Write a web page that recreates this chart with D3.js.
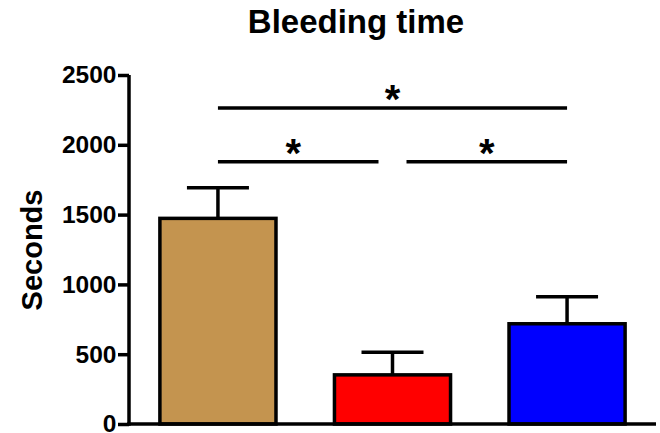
<!DOCTYPE html>
<html>
<head>
<meta charset="utf-8">
<script src="https://cdn.jsdelivr.net/npm/d3@7"></script>
<style>
  body { margin: 0; background: #fff; }
  svg { display: block; font-family: "Liberation Sans", Arial, sans-serif; font-weight: bold; }
</style>
</head>
<body>
<div id="chart"></div>
<script>
var groups = ["A", "B", "C"]
var means = [1473, 352, 718]
var errors = [219, 162, 194]
var colors = ["#C4944F", "#FF0000", "#0000FF"]
var yTicks = [0, 500, 1000, 1500, 2000, 2500]

// significance bars: from group, to group, height (seconds), label
var sigFrom = [0, 0, 1]
var sigTo = [2, 1, 2]
var sigLevel = [2263, 1879, 1879]
var sigLabel = ["*", "*", "*"]

var width = 660,
    height = 433

var svg = d3.select("#chart")
    .append("svg")
    .attr("width", width)
    .attr("height", height)

var x = d3.scaleBand()
    .domain(groups)
    .range([129, 656])
    .paddingInner(0.335)
    .paddingOuter(0.177)

var y = d3.scaleLinear()
    .domain([0, 2500])
    .range([424, 75])

// title
svg.append("text")
    .attr("x", 356)
    .attr("y", 33)
    .attr("text-anchor", "middle")
    .style("font-size", "33px")
    .text("Bleeding time")

// y label
svg.append("text")
    .attr("transform", "translate(42,250) rotate(-90)")
    .attr("text-anchor", "middle")
    .style("font-size", "29px")
    .text("Seconds")

// error bars (drawn first so bar covers the stem)
var err = svg.append("g")
means.forEach(function(m, i) {
    var cx = x(groups[i]) + x.bandwidth() / 2
    err.append("line")
        .attr("x1", cx).attr("x2", cx)
        .attr("y1", y(m)).attr("y2", y(m + errors[i]))
        .attr("stroke", "#000").attr("stroke-width", 3.5)
    err.append("line")
        .attr("x1", cx - 31).attr("x2", cx + 31)
        .attr("y1", y(m + errors[i])).attr("y2", y(m + errors[i]))
        .attr("stroke", "#000").attr("stroke-width", 3.5)
})

// bars
svg.selectAll("rect.bar")
    .data(means)
    .enter()
    .append("rect")
    .attr("class", "bar")
    .attr("x", function(d, i) { return x(groups[i]) })
    .attr("y", function(d) { return y(d) })
    .attr("width", x.bandwidth())
    .attr("height", function(d) { return y(0) - y(d) })
    .attr("fill", function(d, i) { return colors[i] })
    .attr("stroke", "#000")
    .attr("stroke-width", 3.5)

// axes
var yAxis = svg.append("g")
    .attr("transform", "translate(129,0)")
    .call(d3.axisLeft(y).tickValues(yTicks).tickSize(11).tickPadding(1.5).tickFormat(d3.format("d")))
yAxis.select(".domain").attr("d", "M0," + (y(2500)) + "V" + (y(0) + 1.75)).attr("stroke-width", 3.5)
yAxis.selectAll(".tick line").attr("stroke-width", 3.5)
yAxis.selectAll(".tick text")
    .style("font-size", "24.5px")
    .style("font-family", "'Liberation Sans', Arial, sans-serif")
    .style("font-weight", "bold")
    .attr("fill", "#000")

svg.append("line")
    .attr("x1", 127.25).attr("x2", 656)
    .attr("y1", y(0)).attr("y2", y(0))
    .attr("stroke", "#000").attr("stroke-width", 3.5)

// significance annotations
var center = function(i) { return x(groups[i]) + x.bandwidth() / 2 }
sigLevel.forEach(function(lv, i) {
    var x1 = center(sigFrom[i]),
        x2 = center(sigTo[i])
    // short gap around the shared middle bar
    if (sigTo[i] - sigFrom[i] == 1) {
        if (sigTo[i] == 1) x2 -= 14
        if (sigFrom[i] == 1) x1 += 14
    }
    var sx = (x1 + x2) / 2
    if (sigTo[i] == 1) sx -= 5
    svg.append("line")
        .attr("x1", x1).attr("x2", x2)
        .attr("y1", y(lv)).attr("y2", y(lv))
        .attr("stroke", "#000").attr("stroke-width", 3.5)
    svg.append("text")
        .attr("x", sx)
        .attr("y", y(lv) + 5)
        .attr("text-anchor", "middle")
        .style("font-size", "40px")
        .text(sigLabel[i])
})
</script>
</body>
</html>
